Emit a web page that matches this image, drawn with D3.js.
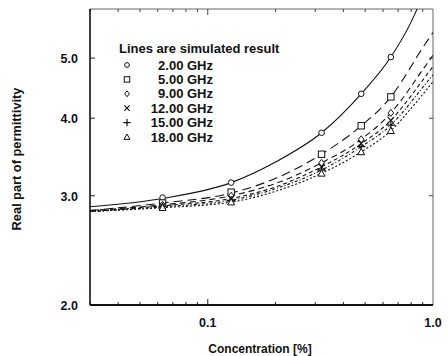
<!DOCTYPE html>
<html>
<head>
<meta charset="utf-8">
<script src="https://cdn.jsdelivr.net/npm/d3@7"></script>
<style>
  html, body { margin: 0; padding: 0; background: #fff; }
  svg { display: block; }
  text { font-family: "Liberation Sans", Arial, Helvetica, sans-serif; font-weight: bold; fill: #111; }
</style>
</head>
<body>
<svg id="chart" width="448" height="356"></svg>
<script>
// Measured concentrations (%) and the real part of permittivity at each frequency
const concX = [0.063, 0.127, 0.32, 0.48, 0.65];
const meas2  = [2.98, 3.15, 3.79, 4.38, 5.02];
const meas5  = [2.92, 3.04, 3.50, 3.89, 4.33];
const meas9  = [2.90, 3.00, 3.39, 3.70, 4.08];
const meas12 = [2.89, 2.97, 3.34, 3.64, 3.97];
const meas15 = [2.88, 2.95, 3.30, 3.60, 3.90];
const meas18 = [2.87, 2.93, 3.26, 3.53, 3.82];

// Simulated curves, sampled along the concentration axis
const simX   = [0.03, 0.063, 0.127, 0.2, 0.32, 0.48, 0.65, 0.8, 0.85, 1.0];
const sim2   = [2.88, 2.97, 3.15, 3.40, 3.79, 4.38, 5.02, 5.72, 6.00, 6.80];
const sim5   = [2.84, 2.92, 3.03, 3.20, 3.50, 3.89, 4.33, 4.85, 5.03, 5.50];
const sim9   = [2.84, 2.90, 3.00, 3.14, 3.39, 3.70, 4.08, 4.50, 4.65, 5.05];
const sim12  = [2.83, 2.89, 2.97, 3.10, 3.34, 3.64, 3.97, 4.35, 4.48, 4.85];
const sim15  = [2.83, 2.88, 2.95, 3.08, 3.30, 3.60, 3.90, 4.25, 4.37, 4.70];
const sim18  = [2.83, 2.87, 2.93, 3.05, 3.26, 3.53, 3.82, 4.15, 4.26, 4.58];

const freqLabels = ["2.00 GHz", "5.00 GHz", "9.00 GHz", "12.00 GHz", "15.00 GHz", "18.00 GHz"];
const symbols = ["circle", "square", "diamond", "cross", "plus", "triangle"];
const dashes = [null, "9,5", "6,4", "4,3", "3,2,1,2", "2,2"];

const xTickVals = [0.1, 1.0];
const xTickLabels = ["0.1", "1.0"];
const yTickVals = [2, 3, 4, 5];
const yTickLabels = ["2.0", "3.0", "4.0", "5.0"];
const legendTitle = "Lines are simulated result";
const xTitle = "Concentration [%]";
const yTitle = "Real part of permittivity";

const measured = [meas2, meas5, meas9, meas12, meas15, meas18];
const simulated = [sim2, sim5, sim9, sim12, sim15, sim18];

const svg = d3.select("#chart");
const m = { left: 90, right: 433, top: 9, bottom: 305 };

const x = d3.scaleLog().domain([0.03, 1.0]).range([m.left, m.right]);
const y = d3.scaleLog().domain([2, 6]).range([m.bottom, m.top]);

svg.append("defs").append("clipPath").attr("id", "plotClip")
  .append("rect").attr("x", m.left).attr("y", m.top)
  .attr("width", m.right - m.left).attr("height", m.bottom - m.top);

// frame: heavy left/bottom, light top/right
svg.append("line").attr("x1", m.left).attr("x2", m.right).attr("y1", m.top).attr("y2", m.top)
  .attr("stroke", "#666").attr("stroke-width", 1);
svg.append("line").attr("x1", m.right).attr("x2", m.right).attr("y1", m.top).attr("y2", m.bottom)
  .attr("stroke", "#666").attr("stroke-width", 1);

// minor x ticks (inward, bottom and top)
const xMinor = [];
[0.01, 0.1].forEach(d => { for (let k = 1; k <= 9; k++) { const v = +(d * k).toFixed(3); if (v >= 0.03 && v <= 1.0) xMinor.push(v); } });
xMinor.forEach(v => {
  const major = xTickVals.includes(v);
  const len = major ? 6 : 3;
  svg.append("line").attr("x1", x(v)).attr("x2", x(v)).attr("y1", m.bottom).attr("y2", m.bottom - len)
    .attr("stroke", "#222").attr("stroke-width", 1);
  svg.append("line").attr("x1", x(v)).attr("x2", x(v)).attr("y1", m.top).attr("y2", m.top + len)
    .attr("stroke", "#444").attr("stroke-width", 1);
});

// y ticks (inward, left and right)
yTickVals.forEach(v => {
  svg.append("line").attr("x1", m.left).attr("x2", m.left + 5).attr("y1", y(v)).attr("y2", y(v))
    .attr("stroke", "#222").attr("stroke-width", 1);
  svg.append("line").attr("x1", m.right).attr("x2", m.right - 4).attr("y1", y(v)).attr("y2", y(v))
    .attr("stroke", "#444").attr("stroke-width", 1);
});

svg.append("line").attr("x1", m.left).attr("x2", m.left).attr("y1", m.top).attr("y2", m.bottom)
  .attr("stroke", "#111").attr("stroke-width", 1.6);
svg.append("line").attr("x1", m.left).attr("x2", m.right).attr("y1", m.bottom).attr("y2", m.bottom)
  .attr("stroke", "#111").attr("stroke-width", 1.8);

// tick labels
svg.append("g").selectAll("text").data(yTickVals).join("text")
  .attr("x", 78).attr("y", d => y(d)).attr("dy", "0.38em")
  .attr("text-anchor", "end").attr("font-size", 12.5)
  .text((d, i) => yTickLabels[i]);
svg.append("g").selectAll("text").data(xTickVals).join("text")
  .attr("x", d => x(d)).attr("y", 327)
  .attr("text-anchor", "middle").attr("font-size", 12.5)
  .text((d, i) => xTickLabels[i]);

// axis titles
svg.append("text").attr("x", 260).attr("y", 353).attr("text-anchor", "middle")
  .attr("font-size", 12).text(xTitle);
svg.append("text").attr("transform", "translate(21,159) rotate(-90)")
  .attr("text-anchor", "middle").attr("font-size", 12.8).text(yTitle);

// simulated curves
const plot = svg.append("g").attr("clip-path", "url(#plotClip)");
const line = d3.line().x(d => x(d[0])).y(d => y(d[1])).curve(d3.curveMonotoneX);
simulated.forEach((s, i) => {
  plot.append("path")
    .attr("d", line(simX.map((v, j) => [v, s[j]])))
    .attr("fill", "none").attr("stroke", "#111").attr("stroke-width", 1.1)
    .attr("stroke-dasharray", dashes[i]);
});

// marker drawing
function drawSymbol(g, type, cx, cy, k) {
  const s = "#111";
  if (type === "circle") {
    g.append("circle").attr("cx", cx).attr("cy", cy).attr("r", 2.8 * k).attr("fill", "#fff").attr("stroke", s).attr("stroke-width", 1);
  } else if (type === "square") {
    g.append("rect").attr("x", cx - 3.2 * k).attr("y", cy - 3.2 * k).attr("width", 6.4 * k).attr("height", 6.4 * k).attr("fill", "#fff").attr("stroke", s).attr("stroke-width", 1);
  } else if (type === "diamond") {
    g.append("path").attr("d", `M${cx},${cy - 3.5 * k}L${cx + 2.8 * k},${cy}L${cx},${cy + 3.5 * k}L${cx - 2.8 * k},${cy}Z`).attr("fill", "#fff").attr("stroke", s).attr("stroke-width", 1);
  } else if (type === "cross") {
    const r = 3.2 * k;
    g.append("path").attr("d", `M${cx - r},${cy - r}L${cx + r},${cy + r}M${cx - r},${cy + r}L${cx + r},${cy - r}`).attr("stroke", s).attr("stroke-width", 1.1);
  } else if (type === "plus") {
    const r = 4.2 * k;
    g.append("path").attr("d", `M${cx - r},${cy}L${cx + r},${cy}M${cx},${cy - r}L${cx},${cy + r}`).attr("stroke", s).attr("stroke-width", 1.2);
  } else if (type === "triangle") {
    const r = 3.5 * k;
    g.append("path").attr("d", `M${cx},${cy - r}L${cx + r},${cy + r * 0.8}L${cx - r},${cy + r * 0.8}Z`).attr("fill", "#fff").attr("stroke", s).attr("stroke-width", 1);
  }
}

const marks = svg.append("g");
measured.forEach((s, i) => {
  s.forEach((v, j) => drawSymbol(marks, symbols[i], x(concX[j]), y(v), 1));
});

// legend
const leg = svg.append("g");
leg.append("text").attr("x", 119).attr("y", 48).attr("dy", "0.36em").attr("font-size", 13).text(legendTitle);
freqLabels.forEach((lab, i) => {
  const cy = 65 + i * 14.4;
  drawSymbol(leg, symbols[i], 127, cy, 0.85);
  leg.append("text").attr("x", 213).attr("y", cy).attr("dy", "0.36em")
    .attr("text-anchor", "end").attr("font-size", 13).text(lab);
});
</script>
</body>
</html>
